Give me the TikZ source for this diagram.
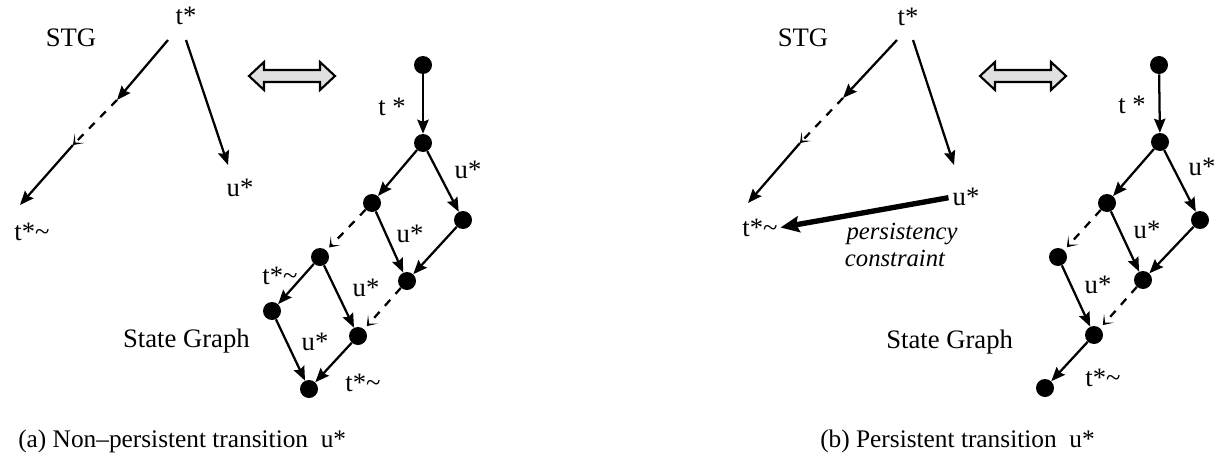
\documentclass[tikz,border=0pt]{standalone}
\usepackage{fontspec}
\setmainfont{Liberation Serif}
\usetikzlibrary{arrows.meta}
\begin{document}
\begin{tikzpicture}[x=0.75pt,y=-0.75pt,
  lbl/.style={inner sep=0pt, font=\fontsize{20}{24}\selectfont},
  captext/.style={inner sep=0pt, font=\fontsize{19}{23}\selectfont},
  ital/.style={inner sep=0pt, font=\fontsize{18.5}{22}\selectfont\itshape},
  dot/.style={circle, fill=black, inner sep=0pt, minimum size=13.5pt},
  arr/.style={line width=1.7pt, -{Stealth[length=10.5pt,width=8.5pt,inset=1.5pt]}},
  dsh/.style={line width=1.7pt, dash pattern=on 6pt off 6pt, -{Stealth[length=7pt,width=10pt,inset=4.5pt]}},
  thick arr/.style={line width=4pt, -{Stealth[length=14pt,width=12pt,inset=2pt]}},
  dbl/.style={draw=black, line width=1.6pt, fill=black!12, line join=miter},
]
\useasboundingbox (0,0) rectangle (1224,471);

% ================= (a) =================
\node[lbl] (stga) at (71,38) {STG};
\node[lbl] (ta) at (186,16) {t*};
\node[lbl] (ua) at (240,188) {u*};
\node[lbl] (tta) at (32,232) {t*\textasciitilde};
\coordinate (a0) at (168,40);
\coordinate (a1) at (117,100);
\coordinate (a2) at (73,145);
\coordinate (a3) at (20,205);
\coordinate (b0) at (186,40);
\coordinate (b1) at (228,165);
\draw[arr] (a0) -- (a1);
\draw[dsh] (a1) -- (a2);
\draw[arr] (a2) -- (a3);
\draw[arr] (b0) -- (b1);

\draw[dbl] (249,76) -- (264,62) -- (264,70) -- (320,70) -- (320,62) -- (335,76)
  -- (320,90) -- (320,82) -- (264,82) -- (264,90) -- cycle;

\node[dot] (n1) at (423,65) {};
\node[dot] (n2) at (423,143) {};
\node[dot] (n3) at (372,203) {};
\node[dot] (n4) at (463,220) {};
\node[dot] (n5) at (320,257) {};
\node[dot] (n6) at (407,281) {};
\node[dot] (n7) at (272,311) {};
\node[dot] (n8) at (358,336) {};
\node[dot] (n9) at (309,389) {};
\draw[arr] (n1) -- (n2);
\draw[arr] (n2) -- (n3);
\draw[arr] (n2) -- (n4);
\draw[arr] (n4) -- (n6);
\draw[arr] (n3) -- (n6);
\draw[dsh, shorten >=3pt] (n3) -- (n5);
\draw[arr] (n5) -- (n7);
\draw[arr] (n5) -- (n8);
\draw[dsh, shorten >=3pt] (n6) -- (n8);
\draw[arr] (n7) -- (n9);
\draw[arr] (n8) -- (n9);
\node[lbl] (l1) at (392,107) {t *};
\node[lbl] (l2) at (468,170) {u*};
\node[lbl] (l3) at (410,234) {u*};
\node[lbl] (l4) at (280,276) {t*\textasciitilde};
\node[lbl] (l5) at (366,288) {u*};
\node[lbl] (l6) at (315,342) {u*};
\node[lbl] (l7) at (363,383) {t*\textasciitilde};
\node[lbl, anchor=east] (sga) at (250,341) {State Graph};
\node[captext, anchor=west] (capa) at (18,441) {(a) Non--persistent transition\ \ u*};

% ================= (b) =================
\node[lbl] (stgb) at (803,38) {STG};
\node[lbl] (tb) at (908,17) {t*};
\node[lbl] (ub) at (966,197) {u*};
\node[lbl] (ttb) at (760,228) {t*\textasciitilde};
\coordinate (c0) at (897,40);
\coordinate (c1) at (843,98);
\coordinate (c2) at (800,143);
\coordinate (c3) at (748,203);
\coordinate (d0) at (913,40);
\coordinate (d1) at (954,165);
\draw[arr] (c0) -- (c1);
\draw[dsh] (c1) -- (c2);
\draw[arr] (c2) -- (c3);
\draw[arr] (d0) -- (d1);
\draw[thick arr, shorten <=3pt, shorten >=2pt] (ub.west) -- (ttb.east);
\node[ital] (pc1) at (902,234) {persistency};
\node[ital] (pc2) at (895,258) {constraint};

\draw[dbl] (980,76) -- (995,62) -- (995,70) -- (1051,70) -- (1051,62) -- (1066,76)
  -- (1051,90) -- (1051,82) -- (995,82) -- (995,90) -- cycle;

\node[dot] (m1) at (1159,65) {};
\node[dot] (m2) at (1160,142) {};
\node[dot] (m3) at (1107,203) {};
\node[dot] (m4) at (1200,220) {};
\node[dot] (m5) at (1058,257) {};
\node[dot] (m6) at (1143,280) {};
\node[dot] (m8) at (1094,335) {};
\node[dot] (m9) at (1045,388) {};
\draw[arr] (m1) -- (m2);
\draw[arr] (m2) -- (m3);
\draw[arr] (m2) -- (m4);
\draw[arr] (m4) -- (m6);
\draw[arr] (m3) -- (m6);
\draw[dsh, shorten >=3pt] (m3) -- (m5);
\draw[arr] (m5) -- (m8);
\draw[dsh, shorten >=3pt] (m6) -- (m8);
\draw[arr] (m8) -- (m9);
\node[lbl] (k1) at (1132,105) {t *};
\node[lbl] (k2) at (1202,167) {u*};
\node[lbl] (k3) at (1147,230) {u*};
\node[lbl] (k5) at (1098,285) {u*};
\node[lbl] (k7) at (1103,378) {t*\textasciitilde};
\node[lbl, anchor=west] (sgb) at (886,342) {State Graph};
\node[captext, anchor=west] (capb) at (820,441) {(b) Persistent transition\ \ u*};
\end{tikzpicture}
\end{document}
